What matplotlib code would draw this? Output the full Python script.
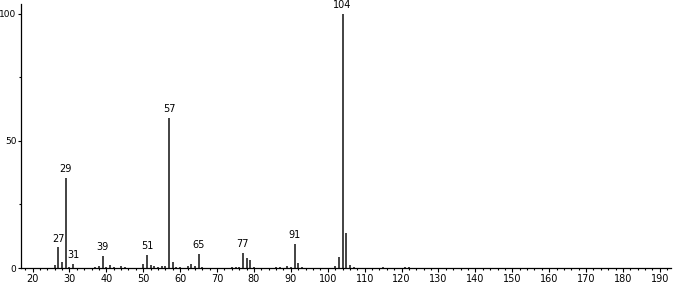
import numpy as np
import matplotlib.pyplot as plt
from matplotlib.ticker import MultipleLocator

# m/z values and relative intensities
mz = [26, 27, 28, 29, 30, 31, 37, 38, 39, 40, 41, 42, 44, 45, 50, 51, 52, 53, 54,
      55, 56, 57, 58, 59, 60, 62, 63, 64, 65, 66, 74, 75, 76, 77, 78, 79, 80, 86,
      87, 89, 90, 91, 92, 93, 102, 103, 104, 105, 106, 107, 115, 121, 122]
intensity = [1.2, 8.1, 2.5, 35.5, 0.5, 1.7, 0.4, 0.7, 4.7, 0.4, 1.0, 0.5, 0.8, 0.4,
             1.5, 5.1, 1.0, 0.8, 0.4, 0.8, 0.8, 59.0, 2.5, 0.4, 0.5, 0.6, 1.5, 0.6,
             5.5, 0.4, 0.4, 0.5, 0.5, 6.0, 3.8, 3.0, 0.4, 0.4, 0.5, 0.9, 0.5, 9.4,
             2.0, 0.4, 0.8, 4.3, 100.0, 13.6, 1.0, 0.3, 0.3, 0.3, 0.3]

labelled = [27, 29, 31, 39, 51, 57, 65, 77, 91, 104]

fig = plt.figure(figsize=(6.73, 2.85), dpi=100)
ax = fig.add_axes([0.0305, 0.0596, 0.967, 0.926])

ax.vlines(mz, 0, intensity, colors='#222222', linewidth=1.2)

for m, h in zip(mz, intensity):
    if m in labelled:
        ax.text(m, h + 1.5, str(m), ha='center', va='bottom', fontsize=7,
                family='DejaVu Sans')

ax.set_xlim(16.74, 193.1)
ax.set_ylim(0, 103.7)

ax.xaxis.set_major_locator(MultipleLocator(10))
ax.xaxis.set_minor_locator(MultipleLocator(2))
ax.yaxis.set_major_locator(MultipleLocator(50))
ax.yaxis.set_minor_locator(MultipleLocator(25))

ax.tick_params(axis='x', which='major', direction='out', length=3,
               width=0.8, labelsize=7, pad=1.5)
ax.tick_params(axis='y', which='major', direction='out', length=2.2,
               width=0.8, labelsize=6.5, pad=0.8)
ax.tick_params(axis='both', which='minor', direction='out', length=1.6, width=0.8)

for s in ['top', 'right']:
    ax.spines[s].set_visible(False)
for s in ['left', 'bottom']:
    ax.spines[s].set_linewidth(0.9)

fig.savefig('out.png', dpi=100)
